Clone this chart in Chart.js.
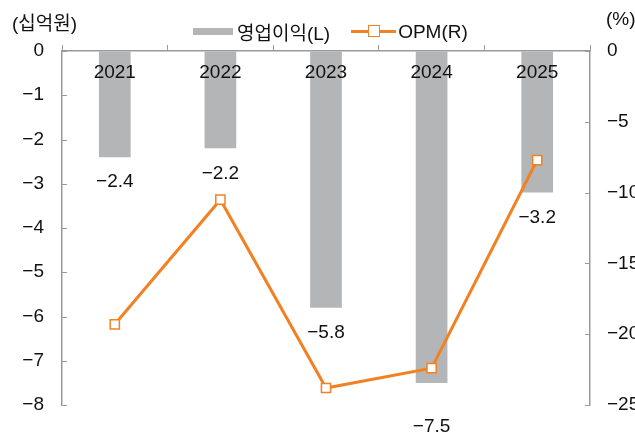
<!DOCTYPE html>
<html lang="ko">
<head>
<meta charset="utf-8">
<title>영업이익 / OPM</title>
<script src="https://cdn.jsdelivr.net/npm/chart.js@4/dist/chart.umd.min.js"></script>
<style>
  html, body { margin: 0; padding: 0; background: #fff; overflow: hidden; }
  #wrap { position: relative; width: 635px; height: 439px; font-family: "Liberation Sans", "Noto Sans CJK KR", sans-serif; color: #111; }
  canvas { position: absolute; left: 0; top: 0; }
  .unit { position: absolute; top: 8px; font-size: 19px; }
  .legend { position: absolute; top: 18px; left: 193px; display: flex; align-items: center; font-size: 19px; }
  .swatch-bar { width: 40px; height: 7px; background: #b4b5b7; margin-right: 4px; }
  .swatch-line { position: relative; width: 45px; height: 3px; background: #f28124; margin: 0 2px 0 21px; }
  .swatch-line i { position: absolute; left: 17px; top: -5px; width: 10px; height: 10px; background: #fff; border: 1.5px solid #f28124; }
</style>
</head>
<body>
<div id="wrap">
  <canvas id="chart" width="635" height="439"></canvas>
  <div class="unit" style="left:12px">(십억원)</div>
  <div class="unit" style="left:606px">(%)</div>
  <div class="legend">
    <span class="swatch-bar"></span><span>영업이익(L)</span>
    <span class="swatch-line"><i></i></span><span>OPM(R)</span>
  </div>
</div>
<script>
  // ── data ────────────────────────────────────────────────
  const years = ['2021', '2022', '2023', '2024', '2025'];
  const opProfit = [-2.4, -2.2, -5.8, -7.5, -3.2];   // 십억원, left axis
  const opm = [-19.3, -10.5, -23.8, -22.4, -7.7];    // %, right axis

  const BAR_COLOR = '#b4b5b7';
  const LINE_COLOR = '#f28124';
  const AXIS_COLOR = '#9a9a9a';
  const FONT = { family: '"Liberation Sans", "Noto Sans CJK KR", sans-serif', size: 19 };

  const fmt = v => (v < 0 ? '\u2212' : '') + Math.abs(v);

  // inward tick marks on both value axes
  const innerTicks = {
    id: 'innerTicks',
    afterDraw(chart) {
      const ctx = chart.ctx;
      ctx.save();
      ctx.strokeStyle = AXIS_COLOR;
      ctx.lineWidth = 1;
      [['y', 1], ['y2', -1]].forEach(([id, dir]) => {
        const s = chart.scales[id];
        const x = id === 'y' ? chart.chartArea.left : chart.chartArea.right;
        s.ticks.forEach(t => {
          const py = Math.round(s.getPixelForValue(t.value)) + 0.5;
          ctx.beginPath();
          ctx.moveTo(x, py);
          ctx.lineTo(x + dir * 5, py);
          ctx.stroke();
        });
      });
      ctx.restore();
    }
  };

  // year labels just under the top axis, and value labels under each bar
  const labelsPlugin = {
    id: 'labelsPlugin',
    afterDatasetsDraw(chart) {
      const ctx = chart.ctx;
      const xs = chart.scales.x;
      const ys = chart.scales.y;
      ctx.save();
      ctx.font = `${FONT.size}px ${FONT.family}`;
      ctx.fillStyle = '#111';
      ctx.textAlign = 'center';
      ctx.textBaseline = 'middle';
      years.forEach((yr, i) => {
        ctx.fillText(yr, xs.getPixelForValue(i), chart.chartArea.top + 22);
      });
      opProfit.forEach((v, i) => {
        const gap = i === 3 ? 44 : 25;   // -7.5 pushed down below the marker
        ctx.fillText(fmt(v), xs.getPixelForValue(i), ys.getPixelForValue(v) + gap);
      });
      ctx.restore();
    }
  };

  new Chart(document.getElementById('chart'), {
    data: {
      labels: years,
      datasets: [
        {
          type: 'line',
          label: 'OPM(R)',
          data: opm,
          yAxisID: 'y2',
          order: 0,
          borderColor: LINE_COLOR,
          borderWidth: 3,
          tension: 0,
          pointStyle: 'rect',
          pointRadius: 6.5,
          pointBorderWidth: 1.5,
          pointBackgroundColor: '#fff',
          pointBorderColor: LINE_COLOR
        },
        {
          type: 'bar',
          label: '영업이익(L)',
          data: opProfit,
          yAxisID: 'y',
          order: 1,
          backgroundColor: BAR_COLOR,
          barPercentage: 0.3,
          categoryPercentage: 1
        }
      ]
    },
    options: {
      responsive: false,
      animation: false,
      events: [],
      layout: { padding: { top: 43, bottom: 34, left: 0, right: 0 } },
      plugins: { legend: { display: false }, tooltip: { enabled: false } },
      scales: {
        x: {
          position: 'top',
          offset: true,
          border: { color: AXIS_COLOR, width: 1.5 },
          grid: { offset: true, drawOnChartArea: false, drawTicks: true, tickLength: 6, color: AXIS_COLOR },
          ticks: { display: false },
          afterFit(s) { s.height = 8; }
        },
        y: {
          position: 'left',
          min: -8, max: 0,
          border: { color: AXIS_COLOR, width: 1.5 },
          grid: { drawOnChartArea: false, drawTicks: false },
          ticks: { stepSize: 1, padding: 18, color: '#111', font: FONT, callback: v => fmt(v) },
          afterFit(s) { s.width = 62; }
        },
        y2: {
          position: 'right',
          min: -25, max: 0,
          border: { color: AXIS_COLOR, width: 1.5 },
          grid: { drawOnChartArea: false, drawTicks: false },
          ticks: { stepSize: 5, padding: 17, color: '#111', font: FONT, callback: v => fmt(v) },
          afterFit(s) { s.width = 45; }
        }
      }
    },
    plugins: [innerTicks, labelsPlugin]
  });
</script>
</body>
</html>
